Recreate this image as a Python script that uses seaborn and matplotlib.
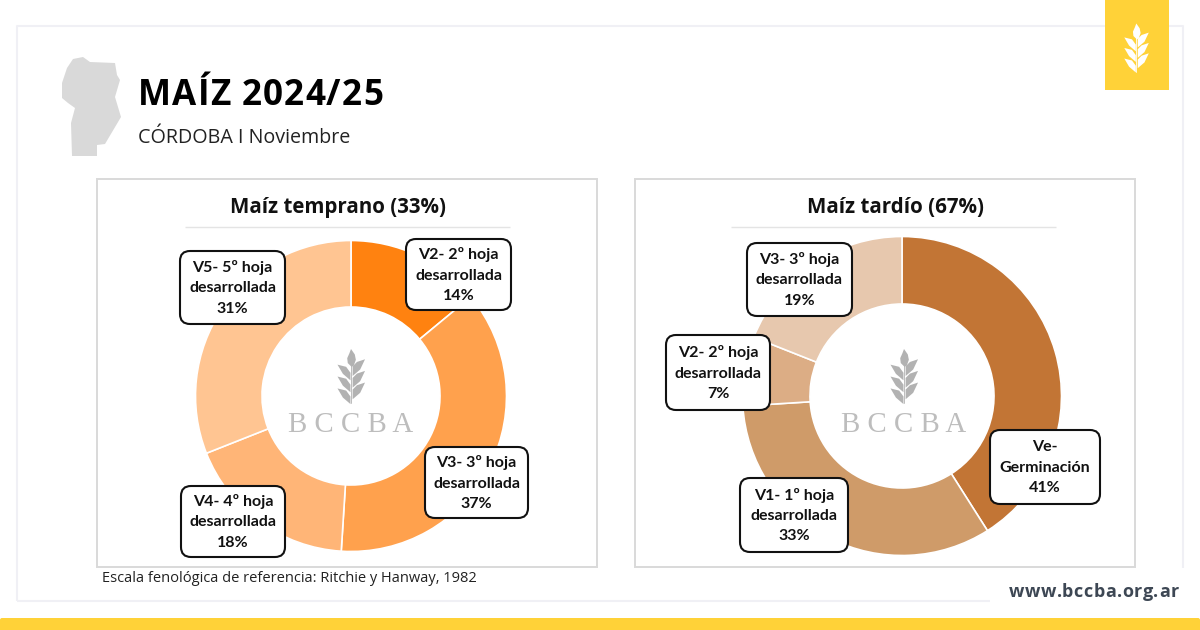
import matplotlib
matplotlib.use("Agg")
import matplotlib.pyplot as plt
from matplotlib.patches import Rectangle, Polygon, FancyBboxPatch
import seaborn as sns

temprano_labels = ["V2- 2º hoja\ndesarrollada\n14%", "V3- 3º hoja\ndesarrollada\n37%",
                   "V4- 4º hoja\ndesarrollada\n18%", "V5- 5º hoja\ndesarrollada\n31%"]
temprano_values = [14, 37, 18, 31]
tardio_labels = ["Ve-\nGerminación\n41%", "V1- 1º hoja\ndesarrollada\n33%",
                 "V2- 2º hoja\ndesarrollada\n7%", "V3- 3º hoja\ndesarrollada\n19%"]
tardio_values = [41, 33, 7, 19]

temprano_colors = sns.color_palette(["#FF8210", "#FFA14D", "#FFB577", "#FFC592"])
tardio_colors = sns.color_palette(["#C27535", "#CF9B69", "#DCAD85", "#E7C8AE"])

YELLOW = "#FFD238"
W, H = 1200, 630

sns.set_theme(style="white")
plt.rcParams["font.family"] = ["Open Sans", "DejaVu Sans"]

fig = plt.figure(figsize=(12, 6.3), dpi=100, facecolor="white")
renderer = fig.canvas.get_renderer()

# background layer, in pixel coordinates
bg = fig.add_axes([0, 0, 1, 1], zorder=0)
bg.set_xlim(0, W)
bg.set_ylim(H, 0)
bg.axis("off")
# overlay for callouts and logos
top = fig.add_axes([0, 0, 1, 1], zorder=3)
top.set_xlim(0, W)
top.set_ylim(H, 0)
top.axis("off")
top.patch.set_alpha(0)


def line(ax, xs, ys, color, lw):
    ax.plot(xs, ys, color=color, lw=lw, solid_capstyle="butt")


def spaced_text(ax, x, y, s, spacing, **kw):
    # matplotlib has no letter spacing, so place each character
    probe = ax.text(0, 0, "|", **kw)
    bar = probe.get_window_extent(renderer).width
    for i, ch in enumerate(s):
        probe.set_text(s[:i] + "|")
        off = probe.get_window_extent(renderer).width - bar
        ax.text(x + off + i * spacing, y, ch, ha="left", va="baseline", **kw)
    probe.remove()


def wheat(ax, cx, y0, h, color, z=None):
    # small wheat ear, unit height
    spike = [(0, 0), (0.07, 0.1), (0.09, 0.2), (0.05, 0.31), (0.01, 0.33),
             (-0.06, 0.26), (-0.07, 0.17), (-0.03, 0.08)]
    left = [(-0.25, 0.29), (-0.09, 0.33), (-0.01, 0.44), (-0.01, 0.58), (-0.15, 0.46)]
    right = [(0.26, 0.19), (0.11, 0.24), (0.03, 0.32), (0.03, 0.5), (0.17, 0.38)]
    shapes = [spike]
    for k in [0, 0.22, 0.44]:
        shapes.append([(x, y + k) for x, y in left])
        shapes.append([(x, y + k * 0.98) for x, y in right])
    for s in shapes:
        ax.add_patch(Polygon([(cx + x * h, y0 + y * h) for x, y in s], closed=True,
                             fc=color, ec="none", zorder=z))
    ax.plot([cx, cx], [y0 + 0.28 * h, y0 + h], color=color, lw=0.6, zorder=z)


def donut(values, colors, cx, cy, r, r_in):
    ax = fig.add_axes([(cx - r) / W, 1 - (cy + r) / H, 2 * r / W, 2 * r / H], zorder=1)
    ax.pie(values, colors=colors, startangle=90, counterclock=False, radius=1,
           wedgeprops=dict(width=1 - r_in / r, edgecolor="white", linewidth=1.2))
    ax.set_xlim(-1, 1)
    ax.set_ylim(-1, 1)
    return ax


def callout(text, x0, x1, y0, y1):
    top.add_patch(FancyBboxPatch((x0 + 9, y0 + 9), x1 - x0 - 18, y1 - y0 - 18,
                                 boxstyle="round,pad=9,rounding_size=10",
                                 fc="white", ec="#111111", lw=1.5, mutation_aspect=1))
    top.text((x0 + x1) / 2, (y0 + y1) / 2 + 0.5, text, ha="center", va="center",
             fontsize=11.5, fontweight="bold", family=["Lato", "DejaVu Sans"],
             color="#111111", linespacing=1.58)


# page frame
line(bg, [17, 17, 1183, 1183], [601, 26, 26, 568], "#F0F0F5", 1.5)
line(bg, [17, 990], [601, 601], "#F0F0F5", 1.5)
bg.add_patch(Rectangle((1105, 0), 64, 90, fc=YELLOW, ec="none", zorder=3))
bg.add_patch(FancyBboxPatch((2, 620), W - 4, 14, boxstyle="round,pad=2,rounding_size=2",
                            fc=YELLOW, ec="none"))
wheat(bg, 1136.3, 23.5, 48, "white", z=4)

# province silhouette
cordoba = [(73, 59), (83, 57), (90, 62), (115, 63), (117, 75), (120, 80), (115, 97),
           (121, 117), (105, 144), (97, 145), (97, 156), (72, 156), (71, 123), (75, 108),
           (68, 103), (62, 98), (62, 83), (67, 68)]
bg.add_patch(Polygon(cordoba, closed=True, fc="#D9D9D9", ec="none"))

# header
spaced_text(bg, 138, 105, "MAÍZ 2024/25", 1.1, fontsize=25.2, fontweight="bold", color="black")
bg.text(138, 143, "CÓRDOBA I Noviembre", fontsize=14.2, color="#222222", ha="left", va="baseline")

# panels
for x0, title, rx0, tx in [(96.5, "Maíz temprano (33%)", 185, 338.5), (634.5, "Maíz tardío (67%)", 731, 895.5)]:
    bg.add_patch(Rectangle((x0, 178.5), 500.5, 388, fc="white", ec="#D9D9D9", lw=1.4))
    line(bg, [rx0, rx0 + 325], [226.5, 226.5], "#E4E4E4", 1)
    bg.text(tx, 207.5, title, fontsize=14.8, fontweight="bold",
            color="#111111", ha="center", va="center")

donut(temprano_values, temprano_colors, 351, 396, 155.5, 89)
donut(tardio_values, tardio_colors, 902, 396, 159.5, 92)

# centre logos
for cx, tx in [(351, 351), (904, 903.5)]:
    wheat(top, cx, 349, 54, "#B2B2B2")
    top.text(tx, 425, "B C C B A", fontsize=20.8, family="Liberation Serif", color="#BDBDBD",
             ha="center", va="center")

# callouts
callout(temprano_labels[0], 406, 511, 239, 310)
callout(temprano_labels[1], 425, 528, 447, 518)
callout(temprano_labels[2], 181, 285, 486, 557)
callout(temprano_labels[3], 180, 285, 251, 324)
callout(tardio_labels[0], 990, 1100, 430, 504)
callout(tardio_labels[1], 740, 848, 478, 552)
callout(tardio_labels[2], 666, 770, 335, 410)
callout(tardio_labels[3], 747, 852, 243, 316)

# footer
top.text(102, 582, "Escala fenológica de referencia: Ritchie y Hanway, 1982", fontsize=10.56,
         color="#222222", ha="left", va="baseline")
spaced_text(top, 1009, 597, "www.bccba.org.ar", 0.6, fontsize=13, fontweight="bold", color="#3D4754")

fig.savefig("out.png", dpi=100, facecolor="white")
plt.close(fig)
